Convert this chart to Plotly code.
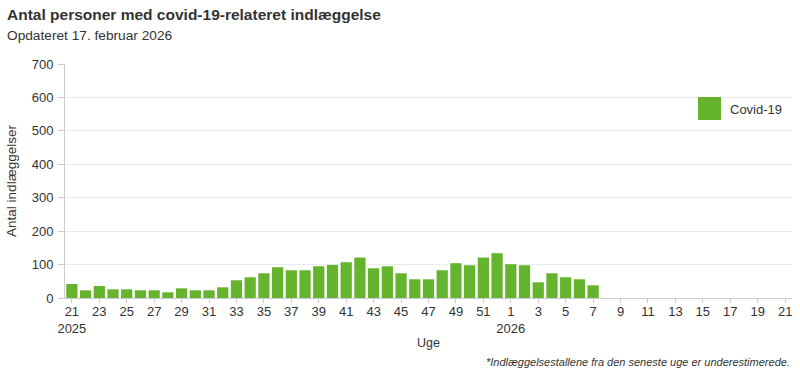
import plotly.graph_objects as go

years = [2025] * 32 + [2026] * 21
week_nums = list(range(21, 53)) + list(range(1, 22))
weeks = [f"{y}-{w:02d}" for y, w in zip(years, week_nums)]

admissions = [42, 23, 36, 26, 26, 23, 23, 17, 29, 23, 23, 32, 53, 62, 74, 92, 83, 83,
              95, 99, 107, 121, 89, 95, 74, 56, 56, 83, 104, 98, 121, 134,
              101, 98, 47, 74, 62, 56, 38]

tick_idx = list(range(0, len(weeks), 2))
tick_vals = [weeks[i] for i in tick_idx]
tick_text = []
for i in tick_idx:
    t = str(week_nums[i])
    if i == 0 or (week_nums[i] == 1):
        t += f"<br>{years[i]}"
    tick_text.append(t)

green = "#66b32e"
font = "Liberation Sans, Arial, sans-serif"

fig = go.Figure()
fig.add_trace(go.Bar(x=weeks[:len(admissions)], y=admissions, marker_color=green,
                     marker_line_width=0, name="Covid-19", showlegend=False))

fig.update_layout(
    width=800, height=375,
    margin=dict(l=65, r=8, t=64, b=77),
    plot_bgcolor="white", paper_bgcolor="white",
    font=dict(family=font, size=13, color="#333"),
    bargap=0.18,
    showlegend=False,
    xaxis=dict(type="category", categoryorder="array", categoryarray=weeks,
               range=[-0.5, len(weeks) - 0.5],
               tickvals=tick_vals, ticktext=tick_text,
               showline=True, linecolor="#ccc", linewidth=1,
               ticks="outside", ticklen=4, tickcolor="#ccc",
               ticklabelstandoff=-3,
               showgrid=False, tickfont=dict(size=13, color="#333"),
               title=dict(text="Uge", font=dict(size=12.5, color="#333"), standoff=3)),
    yaxis=dict(range=[0, 700], dtick=100, showline=True, linecolor="#ccc", linewidth=1,
               ticks="outside", ticklen=6, tickcolor="#ccc",
               ticklabelstandoff=2,
               gridcolor="#ebebeb", zeroline=False,
               tickfont=dict(size=13, color="#333"),
               title=dict(text="Antal indlæggelser", font=dict(size=13.5, color="#333"), standoff=11)),
)

fig.add_annotation(text="<b>Antal personer med covid-19-relateret indlæggelse</b>",
                   x=0, y=1, xref="paper", yref="paper", xanchor="left", yanchor="top",
                   xshift=-60, yshift=60, showarrow=False, font=dict(size=15.5, color="#333"))
fig.add_annotation(text="Opdateret 17. februar 2026",
                   x=0, y=1, xref="paper", yref="paper", xanchor="left", yanchor="top",
                   xshift=-60, yshift=38, showarrow=False, font=dict(size=13.7, color="#333"))
fig.add_annotation(text="<i>*Indlæggelsestallene fra den seneste uge er underestimerede.</i>",
                   x=1, y=0, xref="paper", yref="paper", xanchor="right", yanchor="top",
                   xshift=0, yshift=-56, showarrow=False, font=dict(size=11, color="#333"))

# legend
fig.add_shape(type="rect", xref="paper", yref="paper",
              x0=(698 - 65) / 727, x1=(721 - 65) / 727,
              y0=(298 - 120) / 234, y1=(298 - 97) / 234,
              fillcolor=green, line_width=0)
fig.add_annotation(text="Covid-19", xref="paper", yref="paper",
                   x=(728 - 65) / 727, y=(298 - 109) / 234, xanchor="left", yanchor="middle",
                   showarrow=False, font=dict(size=13, color="#333"))

fig.write_html("out.html", config={"displayModeBar": False},
               post_script="document.body.style.margin='0';")
